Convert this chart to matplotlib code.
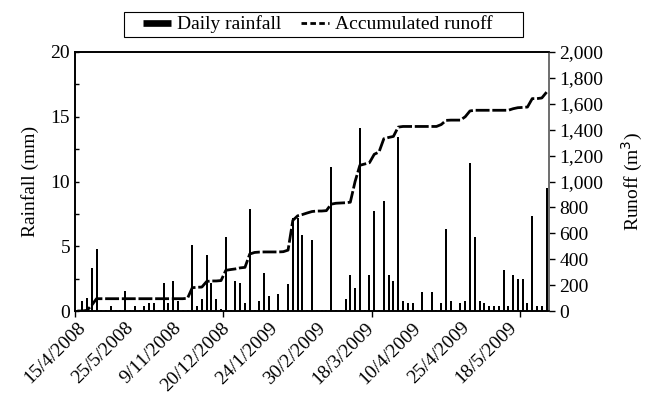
import matplotlib
matplotlib.use("Agg")
import matplotlib.pyplot as plt
from matplotlib.lines import Line2D
from matplotlib.patches import Rectangle
from matplotlib.ticker import FuncFormatter, MultipleLocator, FixedLocator
import numpy as np

# Daily rainfall (mm) for each sampled day (category axis)
rainfall = [0.1, 0.8, 1.0, 3.3, 4.8, 0.1, 0.1, 0.35, 0.1, 0.1,
            1.55, 0.1, 0.35, 0.1, 0.35, 0.6, 0.6, 0.1, 2.15, 0.6,
            2.35, 0.75, 0.1, 0.1, 5.1, 0.35, 0.95, 4.35, 2.2, 0.95,
            0.15, 5.75, 0.1, 2.3, 2.15, 0.6, 7.9, 0.1, 0.75, 2.9,
            1.15, 0.1, 1.3, 0.1, 2.1, 7.15, 7.2, 5.85, 0.1, 5.45,
            0.1, 0.1, 0.1, 11.15, 0.1, 0.1, 0.95, 2.75, 1.75, 14.1,
            0.1, 2.75, 7.75, 0.1, 8.5, 2.75, 2.3, 13.45, 0.75, 0.6,
            0.6, 0.1, 1.5, 0.1, 1.5, 0.1, 0.6, 6.35, 0.75, 0.1,
            0.6, 0.75, 11.45, 5.75, 0.75, 0.6, 0.35, 0.35, 0.35, 3.15,
            0.35, 2.75, 2.5, 2.5, 0.6, 7.35, 0.35, 0.35, 9.5]

# Accumulated runoff (m3)
runoff = [0, 0, 5, 45, 95, 95, 95, 95, 95, 95,
          95, 95, 95, 95, 95, 95, 95, 95, 95, 95,
          95, 95, 95, 98, 180, 183, 185, 228, 232, 232,
          235, 314, 320, 325, 333, 337, 440, 452, 455, 456,
          456, 456, 456, 458, 470, 700, 735, 745, 757, 768,
          772, 772, 775, 825, 832, 834, 836, 840, 1000, 1125,
          1135, 1145, 1210, 1228, 1330, 1340, 1348, 1420, 1425, 1425,
          1425, 1425, 1425, 1425, 1425, 1425, 1440, 1472, 1474, 1474,
          1474, 1500, 1545, 1550, 1550, 1550, 1550, 1550, 1550, 1550,
          1550, 1562, 1570, 1572, 1575, 1640, 1640, 1645, 1690]

# Date labels shown every 10th category
date_labels = ["15/4/2008", "25/5/2008", "9/11/2008", "20/12/2008", "24/1/2009",
               "30/2/2009", "18/3/2009", "10/4/2009", "25/4/2009", "18/5/2009"]
label_step = 10
tick_step = 31

plt.rcParams['font.family'] = ['Liberation Serif', 'DejaVu Serif']
FS = 14

W, H = 648, 396
fig = plt.figure(figsize=(W/100, H/100), dpi=100)
ax = fig.add_axes([75/W, 1-311/H, (549-75)/W, (311-52)/H])
ax2 = ax.twinx()

x = np.arange(len(rainfall))
ax.bar(x, rainfall, width=0.42, color='black', zorder=2)
ax2.plot(x, runoff, color='black', lw=2.0, ls=(0, (5, 1)))

ax.set_xlim(-0.5, len(rainfall) - 0.5)
ax.set_ylim(0, 20)
ax2.set_ylim(0, 2000)

# x axis
ax.set_xticks(x[::label_step][:len(date_labels)])
ax.set_xticklabels(date_labels, rotation=45, ha='right', rotation_mode='anchor', fontsize=FS)
ax.tick_params(axis='x', which='major', length=0, pad=6)
ax.xaxis.set_minor_locator(FixedLocator(np.arange(-0.5, len(rainfall), tick_step)))
ax.tick_params(axis='x', which='minor', direction='out', length=4, width=1)

# left axis
ax.yaxis.set_major_locator(MultipleLocator(5))
ax.yaxis.set_minor_locator(MultipleLocator(2.5))
ax.tick_params(axis='y', which='both', direction='in', length=3, width=1, labelsize=FS)
ax.set_ylabel("Rainfall (mm)", fontsize=FS, labelpad=8)

# right axis
ax2.yaxis.set_major_locator(MultipleLocator(200))
ax2.yaxis.set_major_formatter(FuncFormatter(lambda v, p: f"{int(v):,}"))
ax2.tick_params(axis='y', direction='out', length=4, width=1, labelsize=FS)
ax2.set_ylabel("Runoff (m$^3$)", fontsize=FS, labelpad=12)

for a in (ax, ax2):
    for s in a.spines.values():
        s.set_linewidth(1.2)
        s.set_color('black')
ax2.spines['right'].set_color('#808080')

# legend box
fig.patches.append(Rectangle((124/W, 1-37/H), (523-124)/W, 25/H, transform=fig.transFigure,
                             facecolor='white', edgecolor='black', lw=0.8))
handles = [Line2D([0], [0], color='black', lw=4.8, solid_capstyle='butt'),
           Line2D([0], [0], color='black', lw=2.0, ls=(0, (2, 1.2)))]
leg = fig.legend(handles, ["Daily rainfall", "Accumulated runoff"],
                 loc='center left', bbox_to_anchor=(143/W, 1 - 24.5/H), ncol=2,
                 frameon=False, fontsize=FS,
                 handlelength=1.45, handletextpad=0.3, columnspacing=1.0,
                 borderpad=0, borderaxespad=0)

fig.savefig("out.png", dpi=100)
